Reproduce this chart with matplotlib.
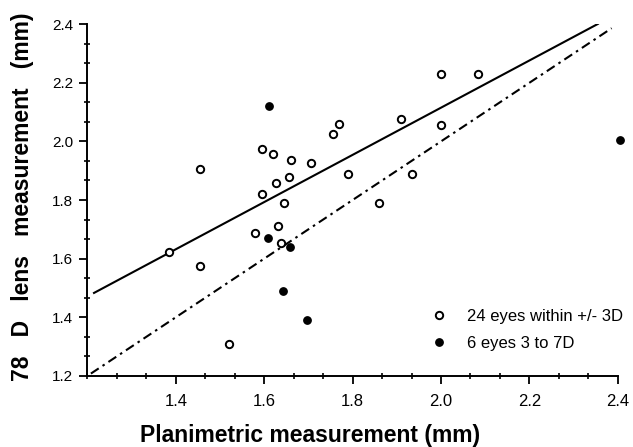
import matplotlib
matplotlib.use("Agg")
import matplotlib.pyplot as plt
import numpy as np
from matplotlib.ticker import MultipleLocator

plt.rcParams['font.family'] = ['Liberation Sans', 'DejaVu Sans']

# open circles: eyes within +/- 3D
within_x = [1.384, 1.455, 1.455, 1.521, 1.580, 1.594, 1.594, 1.619, 1.627, 1.631,
            1.639, 1.644, 1.657, 1.660, 1.705, 1.756, 1.770, 1.790, 1.859, 1.910,
            1.935, 1.999, 1.999, 2.083]
within_y = [1.623, 1.905, 1.575, 1.310, 1.689, 1.975, 1.821, 1.958, 1.859, 1.711,
            1.655, 1.790, 1.877, 1.938, 1.926, 2.026, 2.058, 1.888, 1.789, 2.076,
            1.889, 2.229, 2.057, 2.229]

# filled circles: eyes 3 to 7D
outer_x = [1.610, 1.608, 1.658, 1.642, 1.697, 2.404]
outer_y = [2.122, 1.672, 1.640, 1.489, 1.390, 2.004]

# regression line and line of identity
fit_slope = 0.805
fit_intercept = 0.505
fit_range = [1.213, 2.357]
ident_range = [1.208, 2.386]

x_ticks = [1.4, 1.6, 1.8, 2.0, 2.2, 2.4]
x_ticklabels = ['1.4', '1.6', '1.8', '2.0', '2.2', '2.4']
y_ticks = [1.2, 1.4, 1.6, 1.8, 2.0, 2.2, 2.4]
y_ticklabels = ['1.2', '1.4', '1.6', '1.8', '2.0', '2.2', '2.4']

fig = plt.figure(figsize=(6.33, 4.47), dpi=100)
ax = fig.add_axes([0.138, 0.159, 0.838, 0.787])

fx = np.array(fit_range)
ax.plot(fx, fit_slope * fx + fit_intercept, color='black', lw=1.5, solid_capstyle='butt')
ix = np.array(ident_range)
ax.plot(ix, ix, color='black', lw=1.5, dashes=(4.5, 2.2, 1.2, 2.2))

ax.plot(within_x, within_y, 'o', ms=5.3, mfc='white', mec='black', mew=1.4,
        label='24 eyes within +/- 3D', clip_on=False, zorder=3)
ax.plot(outer_x, outer_y, 'o', ms=5.3, mfc='black', mec='black', mew=1.0,
        label='6 eyes 3 to 7D', clip_on=False, zorder=3)

ax.set_xlim(1.2, 2.4)
ax.set_ylim(1.2, 2.4)
ax.xaxis.set_minor_locator(MultipleLocator(0.2 / 3))
ax.yaxis.set_minor_locator(MultipleLocator(0.2 / 3))
ax.set_xticks(x_ticks)
ax.set_xticklabels(x_ticklabels)
ax.set_yticks(y_ticks)
ax.set_yticklabels(y_ticklabels)

for s in ['top', 'right']:
    ax.spines[s].set_visible(False)
for s in ['left', 'bottom']:
    ax.spines[s].set_linewidth(1.4)

ax.tick_params(which='major', direction='out', length=6, width=1.3, labelsize=11, pad=4)
ax.tick_params(which='minor', direction='inout', length=4, width=1.2)
ax.tick_params(axis='x', which='major', pad=7, labelsize=12)

ax.set_xlabel('Planimetric measurement (mm)', fontsize=16.5, fontweight='bold')
ax.set_ylabel('78   D   lens   measurement   (mm)', fontsize=16.5, fontweight='bold')
ax.xaxis.set_label_coords(0.419, -0.137)
ax.yaxis.set_label_coords(-0.1, 0.508)

ax.legend(loc='lower left', bbox_to_anchor=(0.625, 0.039), frameon=False, fontsize=12,
          handletextpad=1.2, labelspacing=0.71, handlelength=1.0, borderpad=0.2)

fig.savefig('out.png', dpi=100)
